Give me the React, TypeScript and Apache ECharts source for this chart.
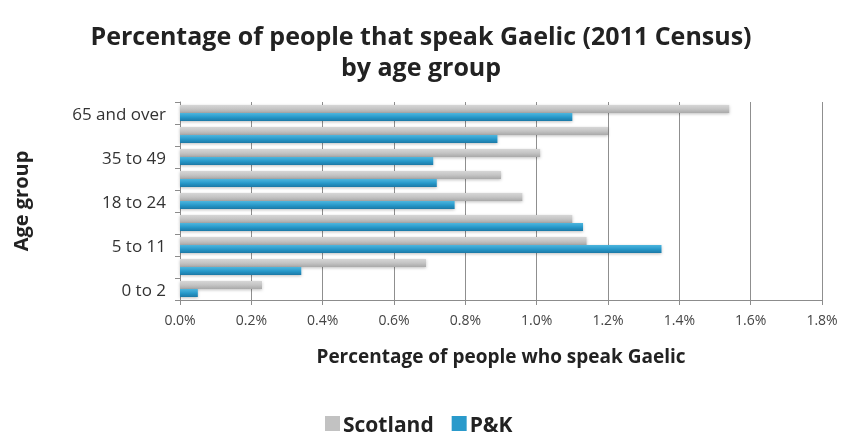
import React, { useEffect, useRef } from "react";
import * as echarts from "echarts";

const categories = ["0 to 2", "3 to 4", "5 to 11", "12 to 17", "18 to 24", "25 to 34", "35 to 49", "50 to 64", "65 and over"];
const scotland = [0.23, 0.69, 1.14, 1.1, 0.96, 0.9, 1.01, 1.2, 1.54];
const pk = [0.05, 0.34, 1.35, 1.13, 0.77, 0.72, 0.71, 0.89, 1.1];
const xTicks = { min: 0, max: 1.8, interval: 0.2 };

const FONT = "'Open Sans', 'Liberation Sans', sans-serif";

export default function App() {
  const ref = useRef<HTMLDivElement>(null);
  useEffect(() => {
    if (!ref.current) return;
    const chart = echarts.init(ref.current, undefined, { renderer: "svg" });
    const grey = new echarts.graphic.LinearGradient(0, 0, 0, 1, [
      { offset: 0, color: "#d6d6d6" },
      { offset: 0.5, color: "#c4c4c4" },
      { offset: 1, color: "#a9a9a9" },
    ]);
    const blue = new echarts.graphic.LinearGradient(0, 0, 0, 1, [
      { offset: 0, color: "#4cb6de" },
      { offset: 0.5, color: "#2a9acb" },
      { offset: 1, color: "#1a78a6" },
    ]);
    chart.setOption({
      animation: false,
      title: {
        text: "Percentage of people that speak Gaelic (2011 Census)\nby age group",
        left: "center",
        top: 14,
        textStyle: { fontFamily: FONT, fontSize: 25, fontWeight: "bold", color: "#222", lineHeight: 31 },
      },
      legend: {
        top: 408,
        left: 320,
        itemWidth: 15,
        itemHeight: 15,
        itemGap: 18,
        icon: "rect",
        textStyle: { fontFamily: FONT, fontSize: 21, fontWeight: "bold", color: "#222", padding: [0, 0, 0, -2] },
        data: [
          { name: "Scotland", itemStyle: { color: "#c2c2c2" } },
          { name: "P&K", itemStyle: { color: "#2a9acb" } },
        ],
      },
      grid: { left: 180, right: 20, top: 102, bottom: 136 },
      xAxis: {
        type: "value",
        min: xTicks.min,
        max: xTicks.max,
        interval: xTicks.interval,
        name: "Percentage of people who speak Gaelic",
        nameLocation: "middle",
        nameGap: 46,
        nameTextStyle: { fontFamily: FONT, fontSize: 19, fontWeight: "bold", color: "#222" },
        axisLine: { show: true, lineStyle: { color: "#8c8c8c" } },
        axisTick: { show: true, length: 5, lineStyle: { color: "#8c8c8c" } },
        axisLabel: {
          fontFamily: FONT,
          fontSize: 14,
          color: "#444",
          margin: 12,
          formatter: (v: number) => v.toFixed(1) + "%",
        },
        splitLine: { show: true, lineStyle: { color: "#8f8f8f" } },
      },
      yAxis: {
        type: "category",
        data: categories,
        name: "Age group",
        nameLocation: "middle",
        nameRotate: 90,
        nameGap: 150,
        nameTextStyle: { fontFamily: FONT, fontSize: 20, fontWeight: "bold", color: "#222" },
        axisLine: { show: true, lineStyle: { color: "#8c8c8c" } },
        axisTick: { show: true, length: 5, interval: 0, lineStyle: { color: "#8c8c8c" } },
        axisLabel: { interval: 1, fontFamily: FONT, fontSize: 17, color: "#333", margin: 14 },
      },
      series: [
        {
          name: "Scotland",
          type: "bar",
          data: scotland,
          itemStyle: { color: grey, shadowColor: "rgba(0,0,0,0.25)", shadowBlur: 3, shadowOffsetY: 1 },
          barWidth: 8,
          barGap: "0%",
        },
        {
          name: "P&K",
          type: "bar",
          data: pk,
          itemStyle: { color: blue, shadowColor: "rgba(0,0,0,0.25)", shadowBlur: 3, shadowOffsetY: 1 },
          barWidth: 8,
          barGap: "0%",
        },
      ],
    });
    return () => chart.dispose();
  }, []);
  return <div ref={ref} style={{ position: "fixed", left: 0, top: 0, width: 842, height: 436 }} />;
}
